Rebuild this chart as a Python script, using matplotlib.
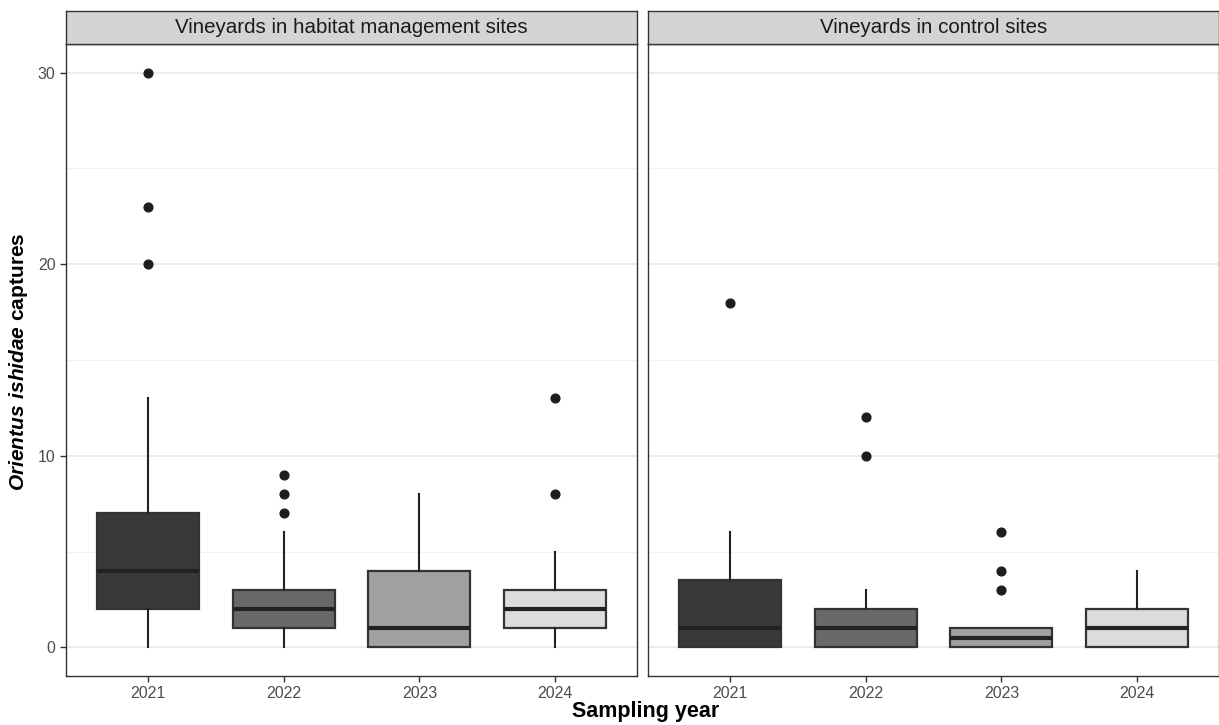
import matplotlib
matplotlib.use("Agg")
import matplotlib.pyplot as plt
from matplotlib.ticker import FixedLocator

plt.rcParams['font.family'] = ['Liberation Sans', 'DejaVu Sans']
plt.rcParams['mathtext.fontset'] = 'custom'
plt.rcParams['mathtext.bfit'] = 'Liberation Sans:italic:bold'
plt.rcParams['mathtext.rm'] = 'Liberation Sans:bold'

years = ['2021', '2022', '2023', '2024']
facets = ['Vineyards in habitat management sites', 'Vineyards in control sites']

# Box summaries for habitat management sites
habitat_low = [0, 0, 0, 0]
habitat_q1 = [2, 1, 0, 1]
habitat_med = [4, 2, 1, 2]
habitat_q3 = [7, 3, 4, 3]
habitat_high = [13, 6, 8, 5]
habitat_out = [[20, 23, 30], [7, 8, 9], [], [8, 13]]

# Box summaries for control sites
control_low = [0, 0, 0, 0]
control_q1 = [0, 0, 0, 0]
control_med = [1, 1, 0.5, 1]
control_q3 = [3.5, 2, 1, 2]
control_high = [6, 3, 1, 4]
control_out = [[18], [10, 12], [3, 4, 6], []]

fills = ['#393939', '#696969', '#a1a1a1', '#dcdcdc']

W, H = 1219, 725
fig = plt.figure(figsize=(W / 100, H / 100), dpi=100)


def px_axes(x0, y0, x1, y1):
    return fig.add_axes([x0 / W, 1 - y1 / H, (x1 - x0) / W, (y1 - y0) / H])


panels = [(66, 637), (648, 1219)]
top, bottom = 44, 676
strip_top = 11

data = [
    (habitat_low, habitat_q1, habitat_med, habitat_q3, habitat_high, habitat_out),
    (control_low, control_q1, control_med, control_q3, control_high, control_out),
]

for i, ((x0, x1), title, d) in enumerate(zip(panels, facets, data)):
    ax = px_axes(x0, top, x1, bottom)
    lo, q1, med, q3, hi, out = d
    stats = [
        dict(whislo=lo[k], q1=q1[k], med=med[k], q3=q3[k], whishi=hi[k],
             fliers=out[k], label=years[k])
        for k in range(len(years))
    ]
    res = ax.bxp(stats, positions=range(1, 5), widths=0.75, patch_artist=True,
                 showcaps=False, zorder=3,
                 boxprops=dict(edgecolor='#333333', linewidth=1.6),
                 medianprops=dict(color='#222222', linewidth=3.0, solid_capstyle='butt'),
                 whiskerprops=dict(color='#222222', linewidth=1.5),
                 flierprops=dict(marker='o', markerfacecolor='#1e1e1e',
                                 markeredgecolor='#1e1e1e', markersize=6.3))
    for box, fc in zip(res['boxes'], fills):
        box.set_facecolor(fc)
    ax.set_xlim(0.4, 4.6)
    ax.set_ylim(-1.5, 31.5)
    ax.yaxis.set_major_locator(FixedLocator([0, 10, 20, 30]))
    ax.yaxis.set_minor_locator(FixedLocator([5, 15, 25]))
    ax.grid(True, axis='y', which='major', color='#ebebeb', linewidth=1.3, zorder=0)
    ax.grid(True, axis='y', which='minor', color='#f2f2f2', linewidth=0.8, zorder=0)
    ax.set_axisbelow(True)
    for sp in ax.spines.values():
        sp.set_color('#333333')
        sp.set_linewidth(1.0)
    ax.tick_params(axis='both', which='major', length=4, width=1.0, color='#333333',
                   labelcolor='#4d4d4d', labelsize=11.5)
    ax.tick_params(axis='y', which='minor', length=0)
    ax.tick_params(axis='x', pad=3)
    if i == 0:
        ax.set_yticklabels(['0', '10', '20', '30'])
    else:
        ax.tick_params(axis='y', which='both', left=False, labelleft=False)

    sax = px_axes(x0, strip_top, x1, top)
    sax.set_facecolor('#d4d4d4')
    sax.set_xticks([])
    sax.set_yticks([])
    for sp in sax.spines.values():
        sp.set_color('#333333')
        sp.set_linewidth(1.0)
    sax.text(0.5, 0.5, title, ha='center', va='center', fontsize=14.8,
             color='#1a1a1a', transform=sax.transAxes)

fig.text(646 / W, 1 - 711 / H, 'Sampling year', ha='center', va='center',
         fontsize=15.5, fontweight='bold', color='black')
fig.text(19 / W, 1 - 362 / H, r'$\mathbfit{Orientus\ ishidae}$ captures',
         ha='center', va='center', rotation=90, fontsize=15,
         fontweight='bold', color='black')

fig.savefig('out.png', dpi=100)
